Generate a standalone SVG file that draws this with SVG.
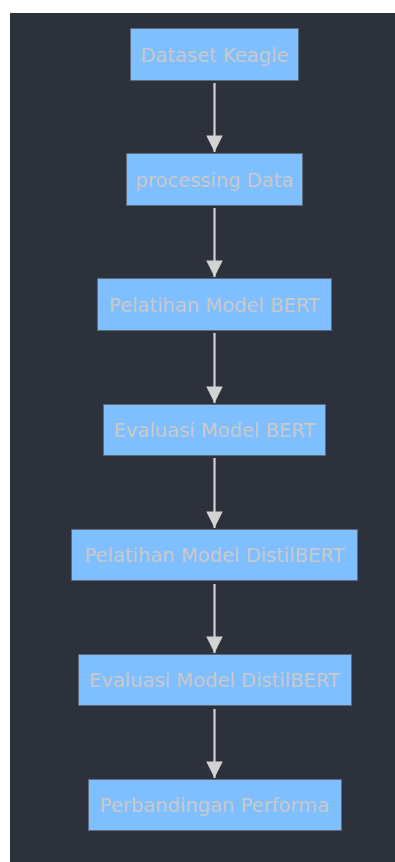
<svg xmlns="http://www.w3.org/2000/svg" width="395" height="862" viewBox="0 0 395 862">
<defs>
<style>
.node rect{fill:#80bfff;stroke:#5c6b7a;stroke-width:1}
.node text{fill:#c9c9c9;font-family:"DejaVu Sans","Noto Sans",sans-serif;font-size:19.5px;text-anchor:middle}
.edge{stroke:#d3d3d3;stroke-width:2.2;fill:none;marker-end:url(#ah)}
</style>
<marker id="ah" viewBox="0 0 10 10" refX="10" refY="5" markerWidth="8" markerHeight="7.5" markerUnits="strokeWidth" orient="auto">
<path d="M0,0 L10,5 L0,10 z" fill="#d3d3d3"/>
</marker>
</defs>
<rect x="0" y="0" width="395" height="862" fill="#ffffff"/>
<rect x="10" y="13" width="385" height="849" fill="#2d313b"/>
<g id="connectors">
<line class="edge" x1="214.5" y1="83" x2="214.5" y2="152"/>
<line class="edge" x1="214.5" y1="208" x2="214.5" y2="277"/>
<line class="edge" x1="214.5" y1="333" x2="214.5" y2="403"/>
<line class="edge" x1="214.5" y1="458" x2="214.5" y2="528"/>
<line class="edge" x1="214.5" y1="584" x2="214.5" y2="653"/>
<line class="edge" x1="214.5" y1="709" x2="214.5" y2="778"/>
</g>
<g id="n1" class="node"><rect x="130.5" y="28.5" width="168" height="52"/><text x="214.5" y="62">Dataset Keagle</text></g>
<g id="n2" class="node"><rect x="126.5" y="153.5" width="176" height="52"/><text x="214.5" y="187">processing Data</text></g>
<g id="n3" class="node"><rect x="97.5" y="278.5" width="234" height="52"/><text x="214.5" y="312">Pelatihan Model BERT</text></g>
<g id="n4" class="node"><rect x="103.5" y="404.5" width="222" height="51"/><text x="214.5" y="437">Evaluasi Model BERT</text></g>
<g id="n5" class="node"><rect x="71.5" y="529.5" width="286" height="51"/><text x="214.5" y="562">Pelatihan Model DistilBERT</text></g>
<g id="n6" class="node"><rect x="78.5" y="654.5" width="273" height="51"/><text x="214.5" y="687">Evaluasi Model DistilBERT</text></g>
<g id="n7" class="node"><rect x="88.5" y="779.5" width="253" height="51"/><text x="214.5" y="812">Perbandingan Performa</text></g>
</svg>
